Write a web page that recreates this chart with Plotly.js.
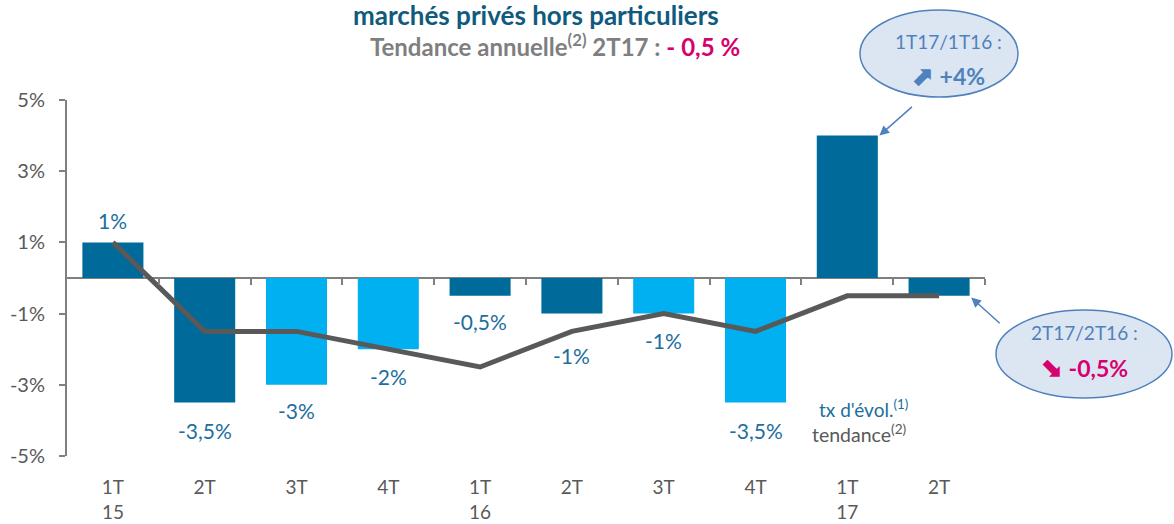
<!DOCTYPE html>
<html><head><meta charset="utf-8">
<script src="https://cdn.plot.ly/plotly-3.0.1.min.js"></script>
<style>html,body{margin:0;padding:0;background:#fff}#c{width:1174px;height:524px}</style>
</head><body><div id="c"></div>
<script>
const categories = ['1T<br>15','2T','3T','4T','1T<br>16','2T','3T','4T','1T<br>17','2T'];
const tauxEvol = [1, -3.5, -3, -2, -0.5, -1, -1, -3.5, 4, -0.5];
const tendance = [1, -1.5, -1.5, -2, -2.5, -1.5, -1, -1.5, -0.5, -0.5];
const barColors = ['#006a9b','#006a9b','#00b0f0','#00b0f0','#006a9b','#006a9b','#00b0f0','#00b0f0','#006a9b','#006a9b'];
const showLabel = [true,true,true,true,true,true,true,true,false,false];
const labelShift = [22,-28,-26,-27,-26,-42,-27,-28,0,0];
const yTickVals = [-5,-3,-1,1,3,5];
const yTickText = ['-5%','-3%','-1%','1%','3%','5%'];

const FONT = 'Lato, "Open Sans", sans-serif';
const idx = categories.map((c,i)=>i);
const fmt = v => String(v).replace('.', ',') + '%';
const px = p => (p-67)/918;
const py = p => (456-p)/356;

const bars = {
  type:'bar', x: idx, y: tauxEvol, marker:{color: barColors}, width:0.665,
  hoverinfo:'skip', showlegend:false
};
const line = {
  type:'scatter', mode:'lines', x: idx, y: tendance,
  line:{color:'#595959', width:5}, hoverinfo:'skip', showlegend:false
};
const dummy = {type:'scatter', mode:'markers', x: idx, y: tendance, xaxis:'x2', marker:{opacity:0}, hoverinfo:'skip', showlegend:false};

const annotations = [];
idx.forEach(i=>{
  if(!showLabel[i]) return;
  annotations.push({x:i, y:tauxEvol[i], xref:'x', yref:'y', xanchor:'center', text: fmt(tauxEvol[i]), showarrow:false,
    yshift: labelShift[i], font:{family:FONT, size:21, color:'#1c6e9e'}});
});
function pt(x, y, text, size, color){
  annotations.push({xref:'paper', yref:'paper', x:px(x), y:py(y), xanchor:'center', yanchor:'middle', showarrow:false,
    text, font:{family:FONT, size, color}});
}
pt(536, 15, '<b>marchés privés hors particuliers</b>', 26, '#0f5a7d');
pt(555, 45, '<b>Tendance annuelle<sup>(2)</sup> 2T17 : <span style="color:#d6006e">- 0,5 %</span></b>', 24, '#7f7f7f');
pt(863, 408, "tx d'évol.<sup>(1)</sup>", 19, '#1c6e9e');
pt(859, 433, 'tendance<sup>(2)</sup>', 19.5, '#595959');
pt(948, 41, '1T17/1T16 :', 19, '#4f81bd');
pt(948, 75, '<b><span style="font-size:26px">⬈</span> +4%</b>', 23, '#4f81bd');
pt(1084, 332, '2T17/2T16 :', 19, '#4f81bd');
pt(1084, 367, '<b><span style="font-size:26px">⬊</span> -0,5%</b>', 23, '#d6006e');
// arrows
annotations.push({xref:'x', yref:'y', x:8.35, y:tauxEvol[8], ax:34, ay:-30, text:'', showarrow:true,
  arrowhead:2, arrowsize:1.3, arrowwidth:1.5, arrowcolor:'#4f81bd'});
annotations.push({xref:'x', yref:'y', x:9.35, y:tauxEvol[9]-0.05, ax:30, ay:27, text:'', showarrow:true,
  arrowhead:2, arrowsize:1.3, arrowwidth:1.5, arrowcolor:'#4f81bd'});

const shapes = [
  {type:'circle', xref:'paper', yref:'paper', x0:px(860), x1:px(1018), y0:py(97), y1:py(10),
    fillcolor:'#dce6f2', line:{color:'#4f81bd', width:1.5}, layer:'below'},
  {type:'circle', xref:'paper', yref:'paper', x0:px(996), x1:px(1172), y0:py(398), y1:py(310),
    fillcolor:'#dce6f2', line:{color:'#4f81bd', width:1.5}, layer:'below'}
];

const layout = {
  width:1174, height:524, margin:{l:67, r:189, t:100, b:68},
  paper_bgcolor:'#fff', plot_bgcolor:'rgba(0,0,0,0)', bargap:0.335,
  font:{family:FONT, color:'#595959'},
  xaxis:{range:[-0.5,9.5], tickvals: idx, ticktext: categories, showgrid:false, zeroline:false, showline:false,
    ticks:'', ticklabelstandoff:18, tickfont:{family:FONT, size:19, color:'#595959'}, fixedrange:true},
  xaxis2:{range:[-0.5,9.5], overlaying:'x', anchor:'free', position:0.5, side:'bottom', showgrid:false, zeroline:false,
    showline:false, tickvals: idx.map(i=>i+0.5), ticks:'outside', ticklen:6, tickwidth:2, tickcolor:'#808080', showticklabels:false},
  yaxis:{range:[-5,5], tickvals:yTickVals, ticktext:yTickText, showgrid:false, zeroline:true, zerolinecolor:'#808080', zerolinewidth:2,
    showline:true, linecolor:'#808080', linewidth:2, ticks:'outside', ticklen:6, tickwidth:2, tickcolor:'#808080',
    ticklabelstandoff:10, tickfont:{family:FONT, size:20, color:'#595959'}},
  annotations, shapes
};
Plotly.newPlot('c', [bars, line, dummy], layout, {displayModeBar:false, staticPlot:true});
</script></body></html>
